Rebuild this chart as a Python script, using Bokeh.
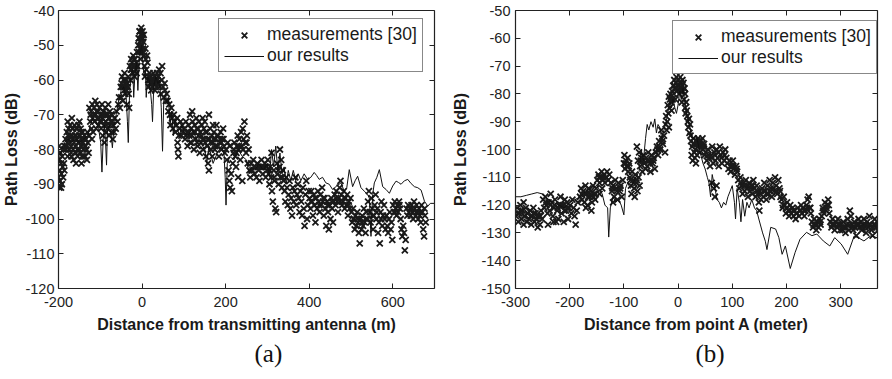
from bokeh.plotting import figure
from bokeh.models import LinearAxis, FixedTicker, Legend, LegendItem, Title, Range1d
from bokeh.layouts import row
from bokeh.embed import file_html
from bokeh.resources import INLINE

# ---------------- panel (a) data ----------------
meas_a = [
    (-199,-79),(-198,-83),(-197,-86),(-196,-89),(-195,-81),(-194,-84),(-193,-87),(-192,-90),(-191,-82),
    (-190,-85),(-189,-88),(-188,-80),(-187,-84),(-186,-86),(-185,-79),(-200,-88),(-198,-91),(-194,-91),
    (-183,-77),(-182,-80),(-180,-75),(-179,-78),(-178,-82),(-176,-74),(-175,-77),(-174,-80),(-172,-73),
    (-171,-76),(-170,-79),(-169,-82),(-167,-74),(-166,-77),(-165,-80),(-164,-83),(-162,-73),(-161,-76),
    (-160,-79),(-159,-81),(-157,-74),(-156,-77),(-155,-80),(-154,-82),(-152,-73),(-151,-76),(-150,-78),
    (-149,-81),(-147,-74),(-146,-77),(-145,-79),(-144,-82),(-142,-75),(-141,-78),(-140,-80),(-138,-76),
    (-137,-79),(-136,-82),(-134,-77),(-133,-80),(-131,-75),(-130,-78),(-128,-81),(-127,-76),(-178,-72),
    (-168,-71),(-150,-72),(-145,-84),(-158,-84),(-132,-83),
    (-124,-72),(-122,-69),(-121,-74),(-119,-67),(-118,-71),(-117,-75),(-115,-68),(-114,-72),(-112,-66),
    (-111,-70),(-110,-74),(-108,-67),(-107,-71),(-105,-69),(-104,-73),(-102,-68),(-101,-72),(-126,-68),(-120,-77),
    (-99,-70),(-98,-74),(-96,-67),(-95,-71),(-94,-76),(-92,-69),(-91,-73),(-90,-78),(-88,-68),(-87,-72),
    (-86,-75),(-84,-70),(-83,-74),(-81,-67),(-80,-71),(-79,-76),(-77,-69),(-76,-73),(-74,-70),(-73,-75),
    (-71,-72),(-70,-77),(-69,-73),(-67,-75),
    (-65,-71),(-63,-74),(-61,-69),(-59,-72),(-57,-67),(-55,-65),(-53,-68),
    (-51,-62),(-50,-65),(-48,-59),(-47,-62),(-46,-66),(-44,-60),(-43,-63),(-42,-58),(-41,-61),(-40,-64),
    (-38,-60),(-37,-63),(-36,-67),(-35,-61),(-33,-59),(-32,-64),(-31,-68),
    (-29,-56),(-28,-60),(-26,-54),(-25,-57),(-24,-55),(-22,-58),(-21,-53),(-20,-56),(-18,-59),(-17,-54),
    (-15,-57),(-14,-55),(-12,-52),(-11,-56),
    (-9,-50),(-8,-48),(-7,-52),(-6,-46),(-5,-49),(-4,-51),(-3,-47),(-2,-45),(-1,-48),(0,-50),(1,-46),
    (2,-48),(3,-52),(4,-47),(-4,-54),
    (5,-53),(6,-56),(8,-51),(9,-54),(10,-57),(12,-53),(13,-55),(7,-59),
    (15,-60),(16,-62),(18,-58),(19,-61),(21,-59),(22,-63),(24,-60),(25,-62),(27,-58),(28,-61),(30,-59),
    (31,-63),(33,-60),(35,-62),(36,-58),(38,-61),(39,-59),
    (41,-57),(42,-62),(44,-58),(45,-64),(47,-60),(48,-56),(50,-62),(52,-65),(54,-61),(55,-63),(57,-66),(59,-64),
    (61,-66),(63,-69),(65,-67),(67,-70),(68,-73),(70,-68),(72,-71),(74,-74),(76,-70),(78,-72),(80,-75),
    (82,-73),(84,-71),(85,-78),(86,-80),(87,-82),(88,-76),(90,-74),(92,-72),(94,-76),(96,-73),(98,-75),
    (101,-74),(103,-77),(105,-72),(107,-75),(109,-79),(111,-73),(113,-76),(115,-70),(117,-74),(118,-78),
    (120,-69),(121,-72),(123,-75),(124,-80),(126,-73),(128,-77),(130,-71),(131,-74),(133,-79),(135,-76),
    (136,-72),(138,-81),(140,-75),(141,-78),(143,-73),(145,-77),(146,-80),(148,-74),(150,-72),(151,-78),
    (153,-82),(155,-75),(156,-79),(158,-84),(160,-86),(161,-77),(163,-74),(165,-80),(167,-76),(168,-82),
    (170,-78),(172,-75),(174,-80),(176,-77),(178,-73),(180,-79),(182,-76),(184,-82),(186,-78),(188,-75),
    (190,-80),(192,-77),(194,-74),(196,-79),(198,-81),(160,-70),(145,-71),(170,-73),
    (201,-80),(203,-83),(205,-78),(207,-86),(209,-89),(211,-91),(213,-87),(215,-92),(217,-84),(219,-81),
    (221,-78),(223,-82),(225,-85),(227,-79),(229,-76),(231,-80),(233,-77),(235,-83),(237,-75),(239,-79),
    (241,-74),(243,-77),(245,-72),(247,-78),(249,-81),(251,-76),(253,-84),(255,-80),(257,-86),(259,-88),
    (240,-89),(230,-88),
    (261,-84),(264,-86),(266,-83),(269,-87),(271,-85),(274,-88),(276,-84),(279,-86),(281,-89),(284,-85),
    (286,-83),(289,-87),(291,-85),(294,-84),(296,-88),(299,-86),
    (301,-83),(303,-87),(305,-90),(307,-85),(309,-88),(311,-92),(313,-95),(315,-86),(317,-89),(319,-97),
    (321,-98),(323,-84),(325,-87),(327,-90),(329,-85),(331,-88),(333,-83),(335,-91),(337,-86),(339,-89),
    (310,-81),(330,-80),
    (341,-92),(343,-95),(345,-88),(347,-91),(349,-96),(351,-93),(353,-89),(355,-97),(357,-94),(359,-99),
    (361,-91),(363,-95),(365,-92),(367,-88),(369,-96),(371,-93),(373,-90),(375,-94),(377,-98),(379,-92),
    (381,-95),(383,-99),(385,-91),(387,-97),(389,-102),(391,-93),(393,-89),(395,-100),(397,-96),(399,-92),
    (401,-94),(403,-97),(405,-92),(407,-95),(409,-99),(411,-93),(413,-96),(415,-101),(417,-94),(419,-97),
    (421,-92),(423,-95),(425,-98),(427,-93),(429,-96),(431,-91),(433,-95),(435,-99),(437,-94),(439,-97),
    (441,-102),(443,-95),(445,-98),(447,-103),(449,-96),(451,-100),(453,-94),(455,-97),(457,-101),(459,-95),
    (461,-93),(463,-96),(465,-92),(467,-95),(469,-98),(471,-94),(473,-91),(475,-89),(477,-93),(479,-96),
    (481,-95),(483,-92),(485,-97),(487,-94),(489,-96),(491,-93),(493,-99),(495,-95),(497,-97),(499,-94),
    (501,-98),(503,-101),(505,-97),(507,-100),(509,-103),(511,-99),(513,-102),(515,-98),(517,-101),(519,-104),
    (521,-107),(523,-100),(525,-103),(527,-99),(529,-102),(531,-97),(533,-101),(535,-104),(537,-98),(539,-100),
    (541,-95),(543,-92),(545,-98),(547,-101),(549,-94),(551,-97),(553,-103),(555,-99),(557,-96),(559,-93),
    (561,-100),(563,-97),(565,-104),(567,-101),(569,-107),(571,-98),(573,-95),(575,-102),(577,-99),(579,-96),
    (581,-100),(583,-103),(585,-99),(587,-102),(589,-104),(591,-100),(593,-98),(595,-103),(597,-101),(599,-106),
    (601,-96),(603,-98),(605,-95),(607,-97),(609,-99),(611,-96),(613,-98),(615,-95),(617,-97),(619,-100),
    (621,-103),(623,-105),(625,-102),(627,-104),(629,-109),(631,-106),(633,-97),(635,-99),(637,-96),(639,-98),
    (641,-97),(643,-99),(645,-96),(647,-98),(649,-100),(651,-95),(653,-97),(655,-99),(657,-96),(659,-98),
    (661,-100),(663,-97),(665,-99),(667,-101),(669,-96),(671,-98),(673,-103),(675,-105),(677,-99),(679,-101),
    # denser cores of the clouds
    (-180,-79),(-177,-76),(-173,-78),(-168,-76),(-163,-78),(-158,-76),(-153,-78),(-148,-76),(-143,-78),
    (-139,-77),(-135,-79),(-170,-81),(-160,-81),(-150,-80),(-140,-82),(-165,-74),(-155,-74),(-146,-75),
    (-123,-70),(-116,-70),(-109,-69),(-103,-71),(-97,-72),(-93,-70),(-89,-70),(-85,-73),(-82,-70),
    (-78,-71),(-75,-72),(-72,-70),
    (-7,-48),(-3,-50),(0,-47),(2,-51),(-5,-46),(-1,-52),(3,-49),
    (-27,-57),(-23,-56),(-19,-54),(-16,-56),(-13,-58),
    (-49,-61),(-45,-62),(-39,-62),(-34,-62),
    (17,-59),(20,-60),(23,-61),(26,-60),(29,-60),(32,-61),(37,-60),
    (105,-76),(112,-75),(119,-76),(127,-75),(134,-74),(142,-76),(149,-77),(157,-77),(164,-78),(171,-77),
    (179,-76),(187,-77),(195,-77),(115,-78),(132,-78),(152,-75),(175,-79),(190,-78),
    (210,-79),(220,-80),(232,-79),(242,-80),(250,-78),(226,-81),
    (268,-85),(278,-85),(288,-85),(298,-85),
    (306,-86),(316,-88),(326,-86),(336,-88),
    (404,-95),(414,-94),(424,-96),(434,-94),(444,-96),(454,-95),
    (464,-94),(474,-95),(484,-94),(494,-96),
    (506,-100),(516,-100),(526,-101),(536,-100),
    (552,-99),(562,-98),(572,-100),
    (606,-98),(616,-96),(646,-97),(656,-98),(666,-98),(676,-97),
]

line_a = [
    (-200,-84),(-195,-81),(-190,-79),(-185,-78),(-178,-77),(-170,-78),(-160,-77),(-150,-78),(-140,-77),
    (-130,-76),(-124,-73),(-118,-71),(-110,-72),(-104,-74),(-99,-78),(-96,-86.5),(-93,-77),(-90,-73),
    (-87,-79),(-85,-84.5),(-83,-75),(-79,-73),(-75,-75),(-71,-79.5),(-67,-73),(-62,-70),(-56,-66),
    (-50,-63),(-44,-62),(-38,-65),(-35,-72),(-33,-78),(-30,-64),(-26,-58),(-22,-57),(-20,-65),(-17,-58),
    (-13,-55),(-10,-63),(-7,-55),(-4,-52),(-1,-50),(2,-55),(5,-59),(8,-57),(10,-65),(13,-59),(17,-60),
    (20,-63),(23,-67),(25,-72),(28,-62),(33,-59),(38,-61),(42,-60),(46,-68),(49,-80.5),(52,-66),(56,-64),
    (60,-67),(63,-65),(67,-73),(71,-69),(75,-76),(79,-71),(84,-74),(90,-76),(95,-73),(100,-75),(110,-76),
    (120,-74),(130,-77),(140,-78),(150,-80),(155,-84),(160,-79),(170,-84),(180,-81),(190,-79),(196,-81),
    (199,-88),(201,-96),(204,-84),(210,-82),(220,-83),(230,-80),(240,-82),(250,-83),(256,-87),(262,-85),
    (270,-86),(280,-84),(290,-86),(300,-84),(305,-88),(310,-80),(315,-85),(320,-79),(325,-86),(330,-81),
    (335,-87),(340,-85),(345,-90),(350,-86),(356,-89),(362,-86),(368,-89),(374,-87),(380,-89),(388,-87),
    (396,-88.6),(404,-88),(412,-86.6),(418,-87.5),(424,-88.6),(432,-88),(440,-89.6),(448,-90),(456,-91.5),
    (466,-90.5),(476,-89.6),(484,-92),(490,-91),(496,-85.8),(504,-90.7),(510,-89),(516,-87.7),(524,-91),
    (532,-92),(540,-93),(544,-94),(548,-105),(552,-93),(556,-89.6),(562,-88),(568,-85.8),(576,-90.7),
    (584,-91.5),(592,-92.6),(600,-90.5),(608,-89.1),(614,-89.5),(620,-90),(628,-89),(636,-88.6),
    (644,-89.8),(652,-90.7),(660,-91),(668,-91.7),(676,-94.9),(684,-96.3),(690,-95.5),(700,-95.5),
]

xticks_a = [-200, 0, 200, 400, 600]
xtick_labels_a = ["-200", "0", "200", "400", "600"]
yticks_a = [-40, -50, -60, -70, -80, -90, -100, -110, -120]
ytick_labels_a = ["-40", "-50", "-60", "-70", "-80", "-90", "-100", "-110", "-120"]

# ---------------- panel (b) data ----------------
meas_b = [
    (-299,-124),(-297,-121),(-295,-126),(-293,-123),(-291,-120),(-289,-125),(-287,-122),(-285,-127),
    (-283,-124),(-281,-121),(-279,-126),(-277,-123),(-275,-125),(-273,-122),(-271,-127),(-269,-124),
    (-267,-121),(-265,-126),(-263,-123),(-261,-125),(-259,-128),(-257,-124),(-255,-127),(-253,-122),
    (-251,-125),(-285,-119),
    (-249,-118),(-247,-121),(-245,-117),(-243,-120),(-241,-123),(-239,-119),(-237,-122),(-235,-116),
    (-233,-119),(-231,-124),(-229,-121),(-227,-118),(-225,-126),(-223,-122),(-221,-125),(-219,-120),
    (-217,-117),(-215,-123),(-213,-120),(-211,-126),(-209,-118),(-207,-122),(-205,-119),(-203,-125),
    (-201,-121),(-240,-127),(-230,-126),
    (-199,-120),(-197,-123),(-195,-118),(-193,-121),(-191,-124),(-189,-127),(-187,-122),(-185,-119),
    (-181,-117),(-179,-114),(-177,-118),(-175,-115),(-173,-119),(-171,-113),(-169,-116),(-167,-120),
    (-165,-114),(-163,-117),(-161,-115),(-159,-119),(-157,-113),(-155,-116),(-153,-118),(-151,-114),
    (-170,-121),(-160,-122),
    (-149,-111),(-147,-109),(-145,-112),(-143,-110),(-141,-108),(-139,-111),(-137,-109),(-135,-112),
    (-133,-110),(-131,-108),(-129,-111),(-127,-109),(-145,-116),(-140,-114),
    (-124,-112),(-122,-115),(-120,-113),(-118,-117),(-116,-111),(-114,-114),(-112,-118),(-110,-112),
    (-108,-115),(-106,-113),(-104,-117),(-102,-111),(-120,-119),
    (-100,-105),(-99,-102),(-98,-107),(-96,-104),(-95,-106),(-93,-103),(-92,-108),(-90,-105),
    (-89,-110),(-87,-113),(-85,-108),(-83,-111),(-81,-114),(-79,-109),(-77,-112),(-75,-115),(-73,-110),
    (-71,-113),(-86,-116),(-80,-117),
    (-76,-99),(-74,-104),(-72,-101),(-70,-106),(-68,-103),(-66,-108),(-64,-102),(-62,-105),(-60,-107),
    (-59,-103),(-57,-106),(-55,-101),(-53,-104),(-51,-108),(-49,-102),(-47,-105),(-45,-103),(-43,-107),(-41,-101),
    (-39,-99),(-37,-102),(-35,-97),(-33,-100),(-31,-93),(-30,-96),(-28,-98),(-26,-95),(-24,-101),
    (-23,-91),(-22,-88),(-21,-93),(-20,-90),(-18,-87),(-17,-92),
    (-19,-84),(-17,-81),(-16,-85),(-14,-80),(-13,-83),(-12,-86),(-11,-79),(-10,-82),
    (-9,-77),(-8,-80),(-7,-75),(-6,-78),(-4,-76),(-3,-74),(-2,-79),(0,-75),(1,-77),(2,-80),(4,-74),
    (5,-76),(6,-78),(8,-75),(9,-79),(10,-76),(12,-78),(13,-80),(-5,-82),(7,-83),
    (11,-82),(13,-85),(14,-87),(15,-83),(16,-86),(17,-88),
    (18,-90),(19,-92),(20,-89),(21,-94),(22,-91),(23,-95),
    (24,-97),(25,-102),(26,-99),(27,-104),(28,-96),(30,-98),(31,-103),(32,-100),(33,-105),(34,-97),
    (36,-99),(37,-96),(39,-98),(40,-101),(42,-97),(43,-99),(45,-96),(46,-100),(48,-98),(49,-102),
    (51,-101),(53,-104),(55,-100),(57,-103),(59,-106),(61,-102),(63,-99),(65,-105),(67,-101),(69,-104),
    (71,-100),(73,-103),(75,-106),(77,-99),(79,-102),(81,-105),(83,-101),(85,-104),(87,-100),(89,-103),
    (62,-112),(66,-114),(68,-117),(71,-113),
    (91,-105),(93,-107),(95,-104),(97,-108),(99,-106),(101,-104),(103,-107),(105,-109),(107,-106),(109,-108),
    (111,-111),(113,-114),(115,-110),(117,-113),(119,-116),(121,-112),(123,-115),(125,-111),(127,-114),
    (129,-117),(131,-112),(133,-115),(135,-113),(137,-116),(139,-111),
    (141,-114),(143,-117),(145,-113),(147,-116),(149,-119),(151,-115),(153,-118),(155,-114),(157,-117),
    (159,-112),(161,-115),(163,-118),(165,-113),(167,-116),(169,-111),(171,-114),(173,-117),(175,-112),
    (177,-115),(179,-110),(181,-113),(183,-116),(185,-111),(187,-114),(189,-117),(150,-122),
    (191,-118),(193,-121),(195,-117),(197,-120),(199,-123),(201,-119),(203,-122),(205,-124),(207,-120),
    (209,-123),(211,-121),(213,-124),(215,-122),(217,-125),(219,-123),
    (221,-121),(223,-124),(225,-122),(227,-120),(229,-123),(231,-121),(233,-124),(235,-122),(237,-120),
    (239,-118),(241,-117),(243,-121),(245,-123),
    (247,-126),(249,-128),(251,-125),(253,-127),(255,-129),(257,-126),(259,-128),(261,-125),(263,-127),
    (265,-124),(267,-121),(269,-123),(271,-119),(273,-122),(275,-120),(277,-118),(279,-123),
    (281,-126),(283,-128),(285,-125),(287,-127),(289,-129),(291,-126),(293,-128),(295,-125),(297,-127),(299,-129),
    (301,-127),(303,-129),(305,-126),(307,-128),(309,-130),(311,-127),(313,-125),(315,-129),(317,-122),
    (319,-124),(321,-127),(323,-129),(325,-126),(327,-128),(329,-131),(331,-127),(333,-125),(335,-128),
    (337,-126),(339,-129),(341,-127),(343,-125),(345,-128),(347,-130),(349,-126),(351,-128),(353,-124),
    (355,-127),(357,-129),(359,-131),(361,-127),(363,-125),(365,-128),(367,-126),(369,-129),(371,-127),
    (373,-130),(375,-126),(377,-128),(379,-125),
    # denser cores of the clouds
    (-296,-123),(-290,-122),(-284,-124),(-278,-123),(-272,-124),(-266,-123),(-260,-124),(-254,-124),
    (-244,-119),(-236,-120),(-228,-120),(-222,-121),(-216,-120),(-210,-122),(-204,-121),
    (-178,-116),(-172,-116),(-166,-117),(-162,-116),(-156,-117),(-152,-116),
    (-146,-110),(-138,-110),(-132,-110),
    (-121,-114),(-113,-115),(-107,-114),
    (-97,-105),(-91,-106),
    (-88,-111),(-82,-112),(-76,-111),
    (-69,-104),(-63,-104),(-57,-104),(-52,-105),(-46,-104),
    (-38,-100),(-34,-99),(-29,-97),
    (-7,-77),(-1,-77),(3,-76),(7,-77),(11,-78),(-3,-78),(5,-79),
    (-15,-82),(-12,-82),
    (28,-98),(35,-98),(38,-97),(44,-98),(47,-99),(30,-101),(35,-102),
    (56,-102),(62,-103),(68,-102),(74,-101),(80,-103),(86,-102),
    (96,-106),(102,-106),(108,-107),
    (116,-112),(122,-113),(128,-113),(134,-114),(138,-113),
    (146,-115),(152,-116),(158,-115),(164,-116),(170,-115),(176,-114),(182,-115),(188,-115),
    (194,-120),(200,-121),(206,-122),(212,-122),(218,-123),
    (226,-122),(232,-122),(238,-121),(244,-121),
    (250,-127),(256,-127),(262,-126),
    (268,-122),(274,-121),(278,-120),
    (284,-127),(290,-127),(296,-127),
    (304,-128),(310,-128),(316,-127),(322,-128),(328,-127),(334,-127),(340,-128),(346,-127),(352,-127),
    (358,-128),(364,-127),(370,-128),(376,-127),
]

line_b = [
    (-300,-117),(-290,-117),(-280,-116.5),(-270,-116),(-260,-115.5),(-250,-116),(-240,-118),(-230,-119),
    (-220,-120),(-210,-121),(-200,-119),(-190,-118),(-180,-117),(-170,-115),(-160,-114),(-150,-113),
    (-140,-116),(-135,-120),(-130,-121),(-128,-131.5),(-125,-121),(-120,-117),(-115,-119),(-110,-118),
    (-105,-120),(-100,-123.5),(-97,-114),(-93,-112),(-88,-114),(-83,-112),(-78,-110),(-72,-108),
    (-68,-100),(-64,-104),(-60,-96),(-57,-91),(-54,-93),(-50,-90),(-46,-92),(-43,-89),(-40,-94),
    (-37,-91),(-34,-92),(-30,-96),(-26,-93),(-22,-90),(-18,-86),(-15,-83),(-12,-85),(-9,-82),(-6,-85),
    (-3,-87),(0,-84),(3,-79),(6,-82),(9,-78),(12,-82),(15,-86),(18,-89),(22,-92),(26,-96),(30,-96),
    (34,-95),(38,-99),(42,-102),(46,-105),(50,-107),(54,-110),(57,-112),(60,-117),(63,-109),(66,-112),
    (69,-115),(72,-118),(76,-119),(80,-121),(84,-119),(88,-120),(92,-117),(96,-115),(100,-113),(104,-119),
    (106,-125),(109,-114),(113,-119),(116,-126),(119,-118),(123,-124),(127,-119),(131,-121),(136,-118),
    (141,-121),(145,-122),(149,-125),(156,-130),(161,-133),(164,-136),(171,-128),(180,-128.6),(186,-131.7),
    (192,-137.7),(198,-134.7),(207,-142.8),(216,-137),(225,-132.3),(237,-129.8),(247,-131),(256,-130.4),
    (268,-132.9),(280,-134.7),(289,-131.7),(301,-134),(313,-137.7),(325,-131.1),(335,-132),(343,-132.9),
    (355,-131.1),(367,-131.7),(376,-137),(380,-136),
]

xticks_b = [-300, -200, -100, 0, 100, 200, 300]
xtick_labels_b = ["-300", "-200", "-100", "0", "100", "200", "300"]
yticks_b = [-50, -60, -70, -80, -90, -100, -110, -120, -130, -140, -150]
ytick_labels_b = ["-50", "-60", "-70", "-80", "-90", "-100", "-110", "-120", "-130", "-140", "-150"]

legend_labels = ["measurements [30]", "our results"]

SANS = "Liberation Sans"
INK = "#1a1a1a"


def style_axis(ax, ticks, labels, show_labels=True):
    ax.ticker = FixedTicker(ticks=ticks)
    ax.major_tick_in = 5
    ax.major_tick_out = 0
    ax.minor_tick_in = 0
    ax.minor_tick_out = 0
    ax.major_tick_line_color = "#222222"
    ax.axis_line_color = "#222222"
    ax.axis_line_width = 1.2
    ax.major_label_text_font = SANS
    if show_labels:
        ax.major_label_overrides = {t: l for t, l in zip(ticks, labels)}
        ax.major_label_text_font_size = "14.5px"
        ax.major_label_text_color = "#222222"
    else:
        ax.major_label_text_font_size = "1px"
        ax.major_label_text_color = None
        ax.major_label_standoff = 0


def make_panel(meas, line, xr, yr, xt, xl, yt, yl, xlabel, caption,
               frame_w, border_left, border_right, legend_loc, cap_offset,
               ytick_standoff, ylab_standoff):
    p = figure(frame_width=frame_w, frame_height=278, x_range=Range1d(*xr), y_range=Range1d(*yr),
               output_backend="svg", toolbar_location=None,
               min_border_left=border_left, min_border_right=border_right, min_border_top=10,
               min_border_bottom=10)
    p.grid.visible = False
    p.outline_line_color = None
    p.background_fill_color = "white"

    style_axis(p.xaxis[0], xt, xl)
    style_axis(p.yaxis[0], yt, yl)
    p.xaxis[0].major_label_standoff = 8
    p.yaxis[0].major_label_standoff = ytick_standoff
    p.xaxis.axis_label = xlabel
    p.yaxis.axis_label = "Path Loss (dB)"
    for ax in (p.xaxis[0], p.yaxis[0]):
        ax.axis_label_text_font = SANS
        ax.axis_label_text_font_style = "bold"
        ax.axis_label_text_font_size = "16px"
        ax.axis_label_text_color = "#1a1a1a"
    p.xaxis[0].axis_label_standoff = 6
    p.yaxis[0].axis_label_standoff = ylab_standoff

    top = LinearAxis()
    style_axis(top, xt, xl, show_labels=False)
    p.add_layout(top, "above")
    right = LinearAxis()
    style_axis(right, yt, yl, show_labels=False)
    p.add_layout(right, "right")

    mx = [a for a, b in meas]
    my = [b for a, b in meas]
    lx = [a for a, b in line]
    ly = [b for a, b in line]
    sc = p.scatter(mx, my, marker="x", size=8.5, line_color=INK, line_width=1.8)
    ln = p.line(lx, ly, line_color="#111111", line_width=1)

    leg = Legend(items=[LegendItem(label=legend_labels[0], renderers=[sc]),
                        LegendItem(label=legend_labels[1], renderers=[ln])],
                 location=legend_loc)
    leg.label_text_font = SANS
    leg.label_text_font_size = "17.5px"
    leg.label_text_color = "#1a1a1a"
    leg.glyph_width = 40
    leg.glyph_height = 20
    leg.label_height = 20
    leg.label_standoff = 3
    leg.spacing = 0
    leg.padding = 5
    leg.margin = 0
    leg.border_line_color = "#111111"
    leg.border_line_width = 1.2
    leg.background_fill_alpha = 1
    p.add_layout(leg, "center")

    cap = Title(text=caption, align="left", offset=cap_offset, text_font="Liberation Serif",
                text_font_size="25px", text_font_style="normal", text_color="#111111", standoff=5)
    p.add_layout(cap, "below")
    return p


pa = make_panel(meas_a, line_a, (-200, 700), (-120, -40), xticks_a, xtick_labels_a,
                yticks_a, ytick_labels_a, "Distance from transmitting antenna (m)", "(a)",
                376, 53, 9, (160, 216), 196, 4, 2)
pb = make_panel(meas_b, line_b, (-300, 368), (-150, -50), xticks_b, xtick_labels_b,
                yticks_b, ytick_labels_b, "Distance from point A (meter)", "(b)",
                362, 72, 2, (157, 214), 180, 5, 9)

layout = row(pa, pb)
open("out.html", "w").write(file_html(layout, INLINE))
